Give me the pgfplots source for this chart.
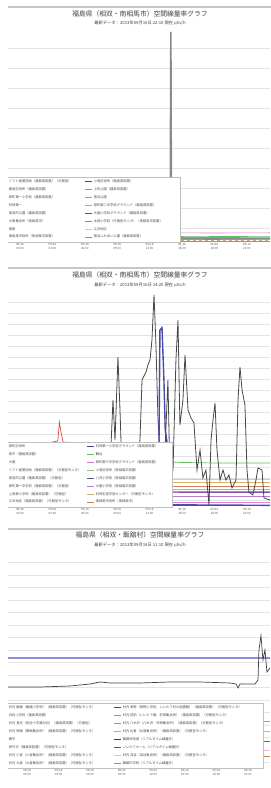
\documentclass[border=0pt]{standalone}
\usepackage{pgfplots}
\pgfplotsset{compat=1.18}
\usepackage{fontspec}
\setmainfont{Noto Sans CJK JP}

\definecolor{cNavy}{HTML}{44448F}
\definecolor{cGreen}{HTML}{5CBF5C}
\definecolor{cMag}{HTML}{D870D8}
\definecolor{cLGreen}{HTML}{8CC08C}
\definecolor{cSlate}{HTML}{56568A}
\definecolor{cGray}{HTML}{8A8A8A}
\definecolor{cLGray}{HTML}{C8C8C8}
\definecolor{cBrown}{HTML}{C8844C}
\definecolor{cPink}{HTML}{E27EE0}
\definecolor{cCyan}{HTML}{7FCFCF}
\definecolor{cTan}{HTML}{D8B070}
\definecolor{cPurple}{HTML}{8C4CB0}
\definecolor{cLav}{HTML}{B4A4E4}
\definecolor{cRed}{HTML}{E04848}
\definecolor{cYel}{HTML}{E2D27A}
\definecolor{cBlue}{HTML}{4A4AA8}
\definecolor{cPeri}{HTML}{8C8CE0}

\newcommand{\LW}[2]{\makebox[#1][l]{#2}}
\newcommand{\LEntry}[2]{\addlegendimage{legend image code/.code={}}\addlegendentry{\LW{#1}{#2}}}
\newcommand{\REntry}[3]{\addlegendimage{color=#2}\addlegendentry{\LW{#1}{#3}}}

\pgfplotsset{
  base/.style={
    scale only axis, width=262bp, anchor=south west,
    axis line style={draw=none}, major tick style={draw=none},
    ymajorgrids, major grid style={gray!22, line width=1bp},
    yticklabel=\empty, ymin=0,
    xtick={0,3,6,9,12,15,18,21},
    xticklabel style={font=\fontsize{3}{3.6}\selectfont, align=center, text=black!65, inner sep=1bp},
    xticklabels={{09/16\\00:00},{09/16\\03:00},{09/16\\06:00},{09/16\\09:00},{09/16\\12:00},{09/16\\15:00},{09/16\\18:00},{09/16\\21:00}},
    legend columns=2, legend cell align=left,
    legend style={font=\fontsize{3.3}{4}\selectfont, text=black!70, draw=gray!50, fill=white,
      inner sep=0.8bp, row sep=0pt, anchor=south west, at={(axis description cs:-0.004,0)},
      nodes={inner xsep=1bp, inner ysep=2.3bp, text height=2.6bp, text depth=0.7bp},
      /tikz/every even column/.append style={column sep=3bp}},
    legend image code/.code={\draw[line width=0.8bp, ##1] (0bp,0bp) -- (7bp,0bp);},
  }
}

\begin{document}
\begin{tikzpicture}
\useasboundingbox (0,0) rectangle (271bp,788bp);
\clip (8bp,0) rectangle (271bp,788bp);

\fill[gray!45] (8bp,780bp) rectangle (271bp,782bp);
\fill[gray!45] (8bp,519bp) rectangle (271bp,521bp);
\fill[gray!45] (8bp,258bp) rectangle (271bp,260bp);

\node[font=\fontsize{6.8}{7}\selectfont, text=black!75] at (140bp,774bp) {福島県（相双・南相馬市）空間線量率グラフ};
\node[font=\fontsize{4.3}{5}\selectfont, text=black!75] at (140bp,765bp) {最新データ：2013年09月16日 22:10 現在 μSv/h};
\node[font=\fontsize{6.8}{7}\selectfont, text=black!75] at (140bp,513bp) {福島県（相双・南相馬市）空間線量率グラフ};
\node[font=\fontsize{4.3}{5}\selectfont, text=black!75] at (140bp,503bp) {最新データ：2013年09月16日 14:20 現在 μSv/h};
\node[font=\fontsize{6.8}{7}\selectfont, text=black!75] at (140bp,253bp) {福島県（相双・飯舘村）空間線量率グラフ};
\node[font=\fontsize{4.3}{5}\selectfont, text=black!75] at (140bp,243bp) {最新データ：2013年09月16日 11:10 現在 μSv/h};

%================ chart 1
\begin{axis}[base, at={(8bp,546bp)}, height=212bp,
  xmin=-1.11, xmax=23.15, ymax=1.06,
  ytick={0.065,0.165,0.265,0.365,0.465,0.565,0.665,0.765,0.865,0.965}]
\addplot[forget plot, color=cPink, line width=0.6bp] coordinates {(-1.11,0.046)(6,0.044)(12,0.046)(18,0.045)(23.15,0.046)};
\addplot[forget plot, color=cGreen, line width=0.6bp] coordinates {(-1.11,0.028)(8,0.029)(16,0.027)(23.15,0.028)};
\addplot[forget plot, color=cPurple!70, line width=0.6bp] coordinates {(-1.11,0.022)(10,0.023)(23.15,0.022)};
\addplot[forget plot, color=cCyan, line width=0.8bp] coordinates {(-1.11,0.012)(7,0.013)(14,0.012)(23.15,0.012)};
\addplot[forget plot, color=cTan, line width=0.8bp, dashed] coordinates {(-1.11,0.008)(23.15,0.008)};
\addplot[forget plot, color=cBrown, line width=0.6bp] coordinates {(-1.11,0.004)(23.15,0.004)};
\addplot[forget plot, color=cGray, line width=1.6bp] coordinates {(-1.11,0.015)(4,0.018)(9,0.015)(13.9,0.016)(13.97,1.05)(14.03,0.016)(18,0.015)(23.15,0.017)};
\LEntry{72bp}{ソフト産業団地（福島県設置）（可搬型）}
\REntry{85bp}{cNavy}{小高区役所（福島県設置）}
\LEntry{72bp}{鹿島区役所（福島県設置）}
\REntry{85bp}{cGreen}{上町公園（福島県設置）}
\LEntry{72bp}{原町第一小学校（福島県設置）}
\REntry{85bp}{cMag}{萱浜公園}
\LEntry{72bp}{石神第一}
\REntry{85bp}{cLGreen}{原町第二中学校グラウンド（福島県設置）}
\LEntry{72bp}{高見町公園（福島県設置）}
\REntry{85bp}{cSlate}{大甕小学校グラウンド（福島県設置）}
\LEntry{72bp}{大原集会所（南相馬市）}
\REntry{85bp}{cGray}{太田小学校（可搬型モニタ）（南相馬市設置）}
\LEntry{72bp}{橲原}
\REntry{85bp}{cLGray}{江井地区}
\LEntry{72bp}{南相馬市役所（南相馬市設置）}
\REntry{85bp}{cBrown}{萱浜ふれあい公園（福島県設置）}
\end{axis}

%================ chart 2
\begin{axis}[base, at={(8bp,281bp)}, height=214bp,
  xmin=-1.11, xmax=23.15, ymax=1.945,
  ytick={0.06,0.16,0.26,0.36,0.46,0.56,0.66,0.76,0.86,0.96,1.06,1.16,1.26,1.36,1.46,1.56,1.66,1.76,1.86}]
\addplot[forget plot, color=cRed, line width=0.7bp] coordinates {(-1.11,0.58)(2,0.57)(3.5,0.6)(3.65,0.77)(3.8,0.68)(4.0,0.59)(6,0.58)(8,0.57)};
\addplot[forget plot, color=cGreen, line width=0.7bp] coordinates {(-1.11,0.40)(6,0.40)(12,0.41)(18,0.40)(23.15,0.40)};
\addplot[forget plot, color=cYel, line width=0.7bp] coordinates {(-1.11,0.25)(23.15,0.25)};
\addplot[forget plot, color=cTan, line width=0.7bp] coordinates {(-1.11,0.22)(10,0.22)(23.15,0.22)};
\addplot[forget plot, color=cBrown, line width=0.6bp] coordinates {(-1.11,0.19)(23.15,0.19)};
\addplot[forget plot, color=cLav, line width=0.8bp] coordinates {(-1.11,0.16)(23.15,0.16)};
\addplot[forget plot, color=cPurple, line width=1.4bp] coordinates {(-1.11,0.135)(8,0.14)(16,0.135)(23.15,0.135)};
\addplot[forget plot, color=cPurple!70, line width=0.9bp] coordinates {(-1.11,0.10)(23.15,0.10)};
\addplot[forget plot, color=cPink, line width=0.7bp] coordinates {(-1.11,0.045)(23.15,0.045)};
\addplot[forget plot, color=cPurple!80!black, line width=1.2bp] coordinates {(-1.11,0.015)(23.15,0.015)};
\addplot[forget plot, color=black!72, line width=0.8bp] coordinates {
(-1.11,0.245)(1.85,0.227)(5.56,0.264)(7.87,0.245)(8.33,0.336)(8.61,0.973)(8.80,0.609)
(9.07,1.364)(9.26,0.882)(9.44,0.336)(10.0,0.245)(10.65,0.291)(11.11,0.609)(11.30,1.155)
(11.67,1.227)(11.85,1.291)(12.04,1.336)(12.22,1.518)(12.41,1.93)(12.59,1.473)(12.78,0.791)
(13.06,0.336)(13.43,0.518)(13.70,1.155)(13.89,0.245)(14.17,0.336)(14.44,1.336)(14.63,1.70)
(14.81,0.745)(15.09,0.973)(15.28,1.382)(15.56,0.882)(15.83,0.809)(16.11,0.764)(16.39,0.336)
(16.67,0.518)(16.94,0.264)(17.22,0.336)(17.5,0.018)(17.69,0.609)(17.87,0.791)(18.06,0.945)
(18.24,0.518)(18.52,0.245)(18.80,0.336)(19.07,0.245)(19.35,0.291)(19.63,0.173)(20.0,0.245)
(20.19,0.973)(20.37,1.273)(20.56,1.064)(20.83,0.927)(21.02,0.336)(21.20,0.136)(21.57,0.109)
(21.85,0.245)(22.04,0.355)(22.41,0.336)(22.59,0.082)(23.15,0.064)};
\addplot[forget plot, color=cBlue, line width=1.4bp] coordinates {(-1.11,0.01)(8,0.012)(12.7,0.02)(12.85,0.34)(12.96,1.61)(13.15,1.63)(13.33,1.15)(13.45,0.70)(13.6,0.6)(13.7,0.02)(23.15,0.015)};
\LEntry{74bp}{原町区役所}
\REntry{75bp}{cNavy}{石神第一小学校グラウンド（福島県設置）}
\LEntry{74bp}{高平（福島県設置）}
\REntry{75bp}{cGreen}{鶴谷}
\LEntry{74bp}{大甕}
\REntry{75bp}{cMag}{原町第三中学校グラウンド（福島県設置）}
\LEntry{74bp}{ソフト産業団地（福島県設置）（可搬型モニタ）}
\REntry{75bp}{cLGreen}{小高区役所（南相馬市設置）}
\LEntry{74bp}{高見町公園（福島県設置）（可搬型）}
\REntry{75bp}{cSlate}{八沢小学校（南相馬市設置）}
\LEntry{74bp}{原町第一中学校（福島県設置）（可搬型）}
\REntry{75bp}{cPurple!70}{大甕小学校（南相馬市設置）}
\LEntry{74bp}{上真野小学校（福島県設置）（可搬型）}
\REntry{75bp}{cTan}{石神生涯学習センター（可搬型モニタ）}
\LEntry{74bp}{江井地区（福島県設置）（可搬型モニタ）}
\REntry{75bp}{cBrown}{南相馬市役所（南相馬市）}
\end{axis}

%================ chart 3
\begin{axis}[base, at={(8bp,20bp)}, height=208bp,
  xmin=-1.81, xmax=23.1, ymax=1.664,
  ytick={0.04,0.14,0.24,0.34,0.44,0.54,0.64,0.74,0.84,0.94,1.04,1.14,1.24,1.34,1.44,1.54,1.64}]
\addplot[forget plot, color=cPeri, line width=1.4bp] coordinates {(-1.81,0.88)(8,0.88)(16,0.88)(23.1,0.88)};
\addplot[forget plot, color=cRed!70, line width=0.7bp] coordinates {(-1.81,0.37)(23.1,0.37)};
\addplot[forget plot, color=cCyan, line width=0.7bp] coordinates {(-1.81,0.29)(23.1,0.29)};
\addplot[forget plot, color=cPurple, line width=1.2bp] coordinates {(-1.81,0.21)(23.1,0.21)};
\addplot[forget plot, color=cPink!60, line width=0.7bp] coordinates {(-1.81,0.145)(23.1,0.145)};
\addplot[forget plot, color=cBrown, line width=0.7bp] coordinates {(-1.81,0.09)(23.1,0.09)};
\addplot[forget plot, color=black!75, line width=0.7bp] coordinates {
(-1.81,0.648)(1.24,0.648)(4.09,0.656)(5.99,0.672)(6.94,0.688)(7.89,0.68)(10.74,0.68)
(13.59,0.688)(16.44,0.688)(19.30,0.68)(19.87,0.672)(20.06,0.64)(20.25,0.672)(21.67,0.672)
(21.96,0.704)(22.05,0.944)(22.24,1.06)(22.43,0.864)(22.62,0.944)(22.81,0.768)(23.1,0.80)};
\LEntry{101bp}{村内 飯樋（飯樋小学校）（福島県設置）（可搬型モニタ）}
\REntry{139bp}{cNavy}{村内 草野（草野小学校、いいたて村の図書館）（福島県設置）（可搬型モニタ）}
\LEntry{101bp}{臼石小学校（福島県設置）}
\REntry{139bp}{cGreen}{村内 前田（いいたて館、前田集会所）（福島県設置）（可搬型モニタ）}
\LEntry{101bp}{村内 長泥（長泥十字路付近）（福島県設置）（可搬型）}
\REntry{139bp}{cMag}{村内 八木沢（八木沢・芦原集会所）（福島県設置）（可搬型モニタ）}
\LEntry{101bp}{村内 関根（関根集会所）（福島県設置）（可搬型モニタ）}
\REntry{139bp}{cLGreen}{村内 比曽（比曽集会所）（福島県設置）（可搬型モニタ）}
\LEntry{101bp}{蕨平}
\REntry{139bp}{black!75}{飯舘村役場（リアルタイム線量計）}
\LEntry{101bp}{伊丹沢（福島県設置）（可搬型モニタ）}
\REntry{139bp}{cSlate}{いいたてホーム（リアルタイム線量計）}
\LEntry{101bp}{村内 小宮（小宮集会所）（福島県設置）（可搬型モニタ）}
\REntry{139bp}{cLGray}{村内 深谷（深谷集会所）（福島県設置）（可搬型モニタ）}
\LEntry{101bp}{村内 大倉（大倉集会所）（福島県設置）（可搬型モニタ）}
\REntry{139bp}{cBrown}{飯舘中学校（リアルタイム線量計）}
\end{axis}
\end{tikzpicture}
\end{document}
